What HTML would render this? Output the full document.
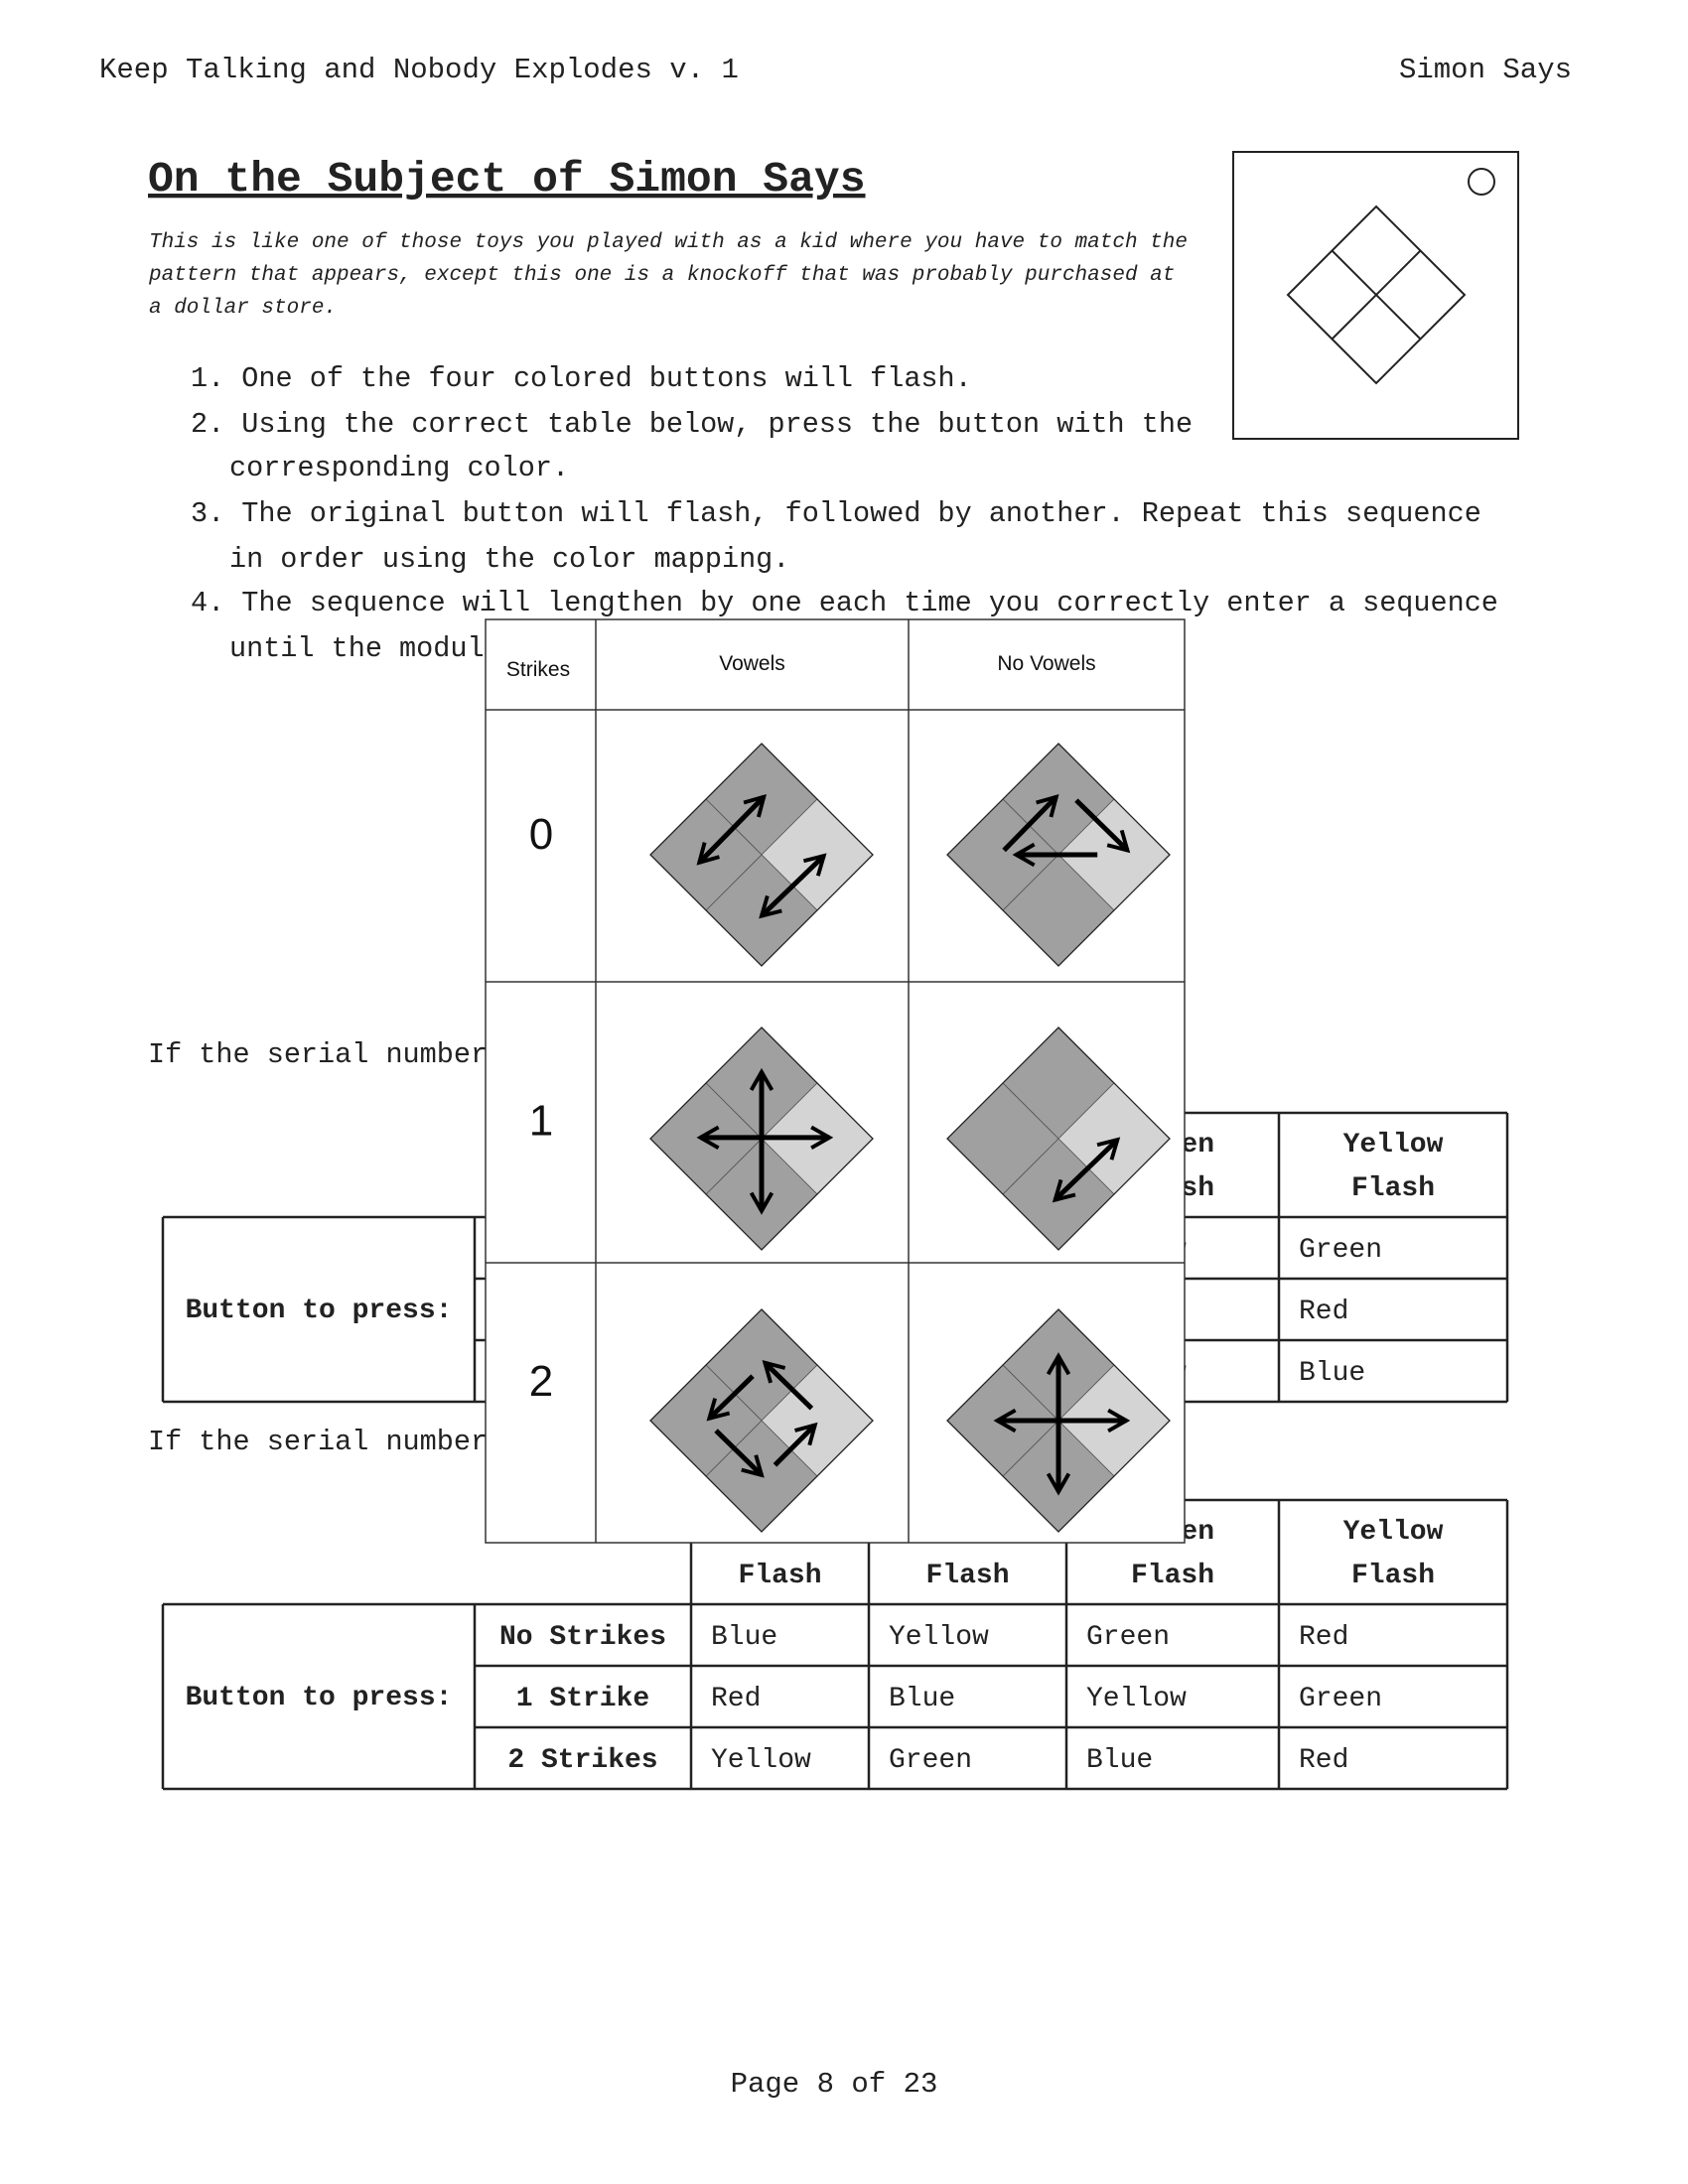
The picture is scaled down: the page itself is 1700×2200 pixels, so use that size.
<!DOCTYPE html>
<html><head><meta charset="utf-8">
<style>
html,body{margin:0;padding:0;background:#fff;}
svg{display:block;}
.tw{font-family:"Liberation Mono",monospace;fill:#222;}
.sans{font-family:"Liberation Sans",sans-serif;fill:#111;}
</style></head>
<body>
<svg id="page" width="1700" height="2200" viewBox="0 0 1700 2200" xmlns="http://www.w3.org/2000/svg">
<defs>
<marker id="ah" viewBox="0 0 10 10" refX="8" refY="5" markerWidth="5.2" markerHeight="5.2" orient="auto-start-reverse" markerUnits="strokeWidth">
<path d="M1,1 L8,5 L1,9" fill="none" stroke="#000" stroke-width="1.5"/>
</marker>
</defs>
<text class="tw" x="100" y="78" font-size="29">Keep Talking and Nobody Explodes v. 1</text>
<text class="tw" x="1583" y="78" font-size="29" text-anchor="end">Simon Says</text>
<text class="tw" x="149" y="192" font-size="43" font-weight="bold" text-decoration="underline">On the Subject of Simon Says</text>
<g class="tw" font-size="21" font-style="italic">
<text x="150" y="249">This is like one of those toys you played with as a kid where you have to match the</text>
<text x="150" y="282">pattern that appears, except this one is a knockoff that was probably purchased at</text>
<text x="150" y="315">a dollar store.</text>
</g>
<g>
<rect x="1242" y="153" width="287" height="289" fill="none" stroke="#222" stroke-width="2"/>
<circle cx="1492" cy="183" r="13" fill="none" stroke="#222" stroke-width="2"/>
<path d="M1386,208 L1475,297 L1386,386 L1297,297 Z M1341.5,252.5 L1430.5,341.5 M1430.5,252.5 L1341.5,341.5" fill="none" stroke="#222" stroke-width="2"/>
</g>
<g class="tw" font-size="28.5">
<text x="192" y="389">1. One of the four colored buttons will flash.</text>
<text x="192" y="435">2. Using the correct table below, press the button with the</text>
<text x="231" y="479">corresponding color.</text>
<text x="192" y="525">3. The original button will flash, followed by another. Repeat this sequence</text>
<text x="231" y="571">in order using the color mapping.</text>
<text x="192" y="615">4. The sequence will lengthen by one each time you correctly enter a sequence</text>
<text x="231" y="661">until the module is disarmed.</text>
</g>
<text class="tw" x="149" y="1070" font-size="28.5">If the serial number contains a vowel:</text>
<text class="tw" x="149" y="1460" font-size="28.5">If the serial number does not contain a vowel:</text>
<g id="tables"></g>
<g id="overlay"></g>
<text class="tw" x="840" y="2107" font-size="29" text-anchor="middle">Page 8 of 23</text>
</svg>
<script>
const flashColors = ["Red","Blue","Green","Yellow"];
const strikeLabels = ["No Strikes","1 Strike","2 Strikes"];
const vowelTable = [["Blue","Red","Yellow","Green"],["Yellow","Green","Blue","Red"],["Green","Red","Yellow","Blue"]];
const noVowelTable = [["Blue","Yellow","Green","Red"],["Red","Blue","Yellow","Green"],["Yellow","Green","Blue","Red"]];
const overlayCols = ["Vowels","No Vowels"];
const overlayStrikes = ["0","1","2"];
const overlayArrows = [
 [[[-0.56,0.07,0.02,-0.52,1],[0.0,0.55,0.56,0.01,1]], [[-0.49,-0.04,-0.02,-0.52,0],[0.16,-0.49,0.62,-0.04,0],[0.35,0,-0.38,0,0]]],
 [[[0,-0.6,0,0.65,1],[-0.55,-0.01,0.61,-0.01,1]], [[-0.03,0.55,0.53,0.01,1]]],
 [[[-0.08,-0.4,-0.47,-0.02,0],[0.45,-0.11,0.03,-0.52,0],[-0.41,0.09,0,0.49,0],[0.12,0.4,0.48,0.04,0]], [[0,-0.58,0,0.64,1],[-0.55,0,0.61,0,1]]]
];
const NS="http://www.w3.org/2000/svg";
function mk(tag,attrs,parent){const e=document.createElementNS(NS,tag);for(const k in attrs)e.setAttribute(k,attrs[k]);parent.appendChild(e);return e;}
function txt(parent,x,y,s,opts){const t=mk("text",Object.assign({x:x,y:y,class:"tw","font-size":28},opts||{}),parent);t.textContent=s;return t;}
const tables=document.getElementById("tables");
const colX=[164,478,696,875,1074,1288,1518];
function drawTable(top,data,name){
  const g=mk("g",{},tables);
  
  
  const hTop=top, hBot=top+105, rowH=62;
  const rows=[hBot,hBot+rowH,hBot+2*rowH,hBot+3*rowH];
  const st={stroke:"#222","stroke-width":2.5};
  mk("line",Object.assign({x1:colX[2],y1:hTop,x2:colX[6],y2:hTop},st),g);
  for(let c=2;c<=6;c++) mk("line",Object.assign({x1:colX[c],y1:hTop,x2:colX[c],y2:rows[3]},st),g);
  mk("line",Object.assign({x1:colX[0],y1:hBot,x2:colX[6],y2:hBot},st),g);
  for(let r=1;r<=2;r++) mk("line",Object.assign({x1:colX[1],y1:rows[r],x2:colX[6],y2:rows[r]},st),g);
  mk("line",Object.assign({x1:colX[0],y1:rows[3],x2:colX[6],y2:rows[3]},st),g);
  mk("line",Object.assign({x1:colX[0],y1:hBot,x2:colX[0],y2:rows[3]},st),g);
  mk("line",Object.assign({x1:colX[1],y1:hBot,x2:colX[1],y2:rows[3]},st),g);
  flashColors.forEach((f,i)=>{
    const cx=(colX[i+2]+colX[i+3])/2;
    const h1=txt(g,cx,hTop+39,f,{"font-weight":"bold","text-anchor":"middle"});
    
    
    txt(g,cx,hTop+83,"Flash",{"font-weight":"bold","text-anchor":"middle"});
  });
  const b=txt(g,(colX[0]+colX[1])/2,hBot+101,"Button to press:",{"font-weight":"bold","text-anchor":"middle"});
  
  
  strikeLabels.forEach((s,r)=>{
    const l=txt(g,(colX[1]+colX[2])/2,rows[r]+40,s,{"font-weight":"bold","text-anchor":"middle"});
    
    
    data[r].forEach((v,c)=>{
      const t=txt(g,colX[c+2]+20,rows[r]+40,v);
      
      
    });
  });
}
drawTable(1121,vowelTable,"vowel-mapping-table");
drawTable(1511,noVowelTable,"no-vowel-mapping-table");

const ov=document.getElementById("overlay");
const oX=[489,600,915,1193], oY=[624,715,989,1272,1554];
mk("rect",{x:oX[0],y:oY[0],width:oX[3]-oX[0],height:oY[4]-oY[0],fill:"#fff",stroke:"#333","stroke-width":1.5},ov);
for(let i=1;i<3;i++) mk("line",{x1:oX[i],y1:oY[0],x2:oX[i],y2:oY[4],stroke:"#333","stroke-width":1.5},ov);
for(let i=1;i<4;i++) mk("line",{x1:oX[0],y1:oY[i],x2:oX[3],y2:oY[i],stroke:"#333","stroke-width":1.5},ov);
const hs=mk("text",{x:542,y:681,class:"sans","font-size":21,"text-anchor":"middle"},ov);hs.textContent="Strikes";


overlayCols.forEach((c,i)=>{
  const t=mk("text",{x:(oX[i+1]+oX[i+2])/2,y:675,class:"sans","font-size":21,"text-anchor":"middle"},ov);t.textContent=c;
  
  
});
const H=112;
overlayStrikes.forEach((s,r)=>{
  const cy=(oY[r+1]+oY[r+2])/2;
  const t=mk("text",{x:545,y:cy+13+(r===0?-10:r===2?-20:0),class:"sans","font-size":44,"text-anchor":"middle"},ov);t.textContent=s;
  
  
  const centersY=[861,1147,1431];
  [767,1066].forEach((cx,c)=>{
    const y0=centersY[r];
    const g=mk("g",{transform:"translate("+cx+","+y0+")"},ov);
    
    
    const h=H/2;
    const quads=[[[0,-H],[h,-h],[0,0],[-h,-h]],[[h,-h],[H,0],[h,h],[0,0]],[[0,0],[h,h],[0,H],[-h,h]],[[-h,-h],[0,0],[-h,h],[-H,0]]];
    const fills=["#a0a0a0","#d4d4d4","#a0a0a0","#a0a0a0"];
    quads.forEach((q,qi)=>mk("polygon",{points:q.map(p=>p.join(",")).join(" "),fill:fills[qi],stroke:"#555","stroke-width":0.8},g));
    mk("polygon",{points:"0,"+(-H)+" "+H+",0 0,"+H+" "+(-H)+",0",fill:"none",stroke:"#222","stroke-width":1.3},g);
    overlayArrows[r][c].forEach(a=>{
      const ln=mk("line",{x1:a[0]*H,y1:a[1]*H,x2:a[2]*H,y2:a[3]*H,stroke:"#000","stroke-width":5,"marker-end":"url(#ah)"},g);
      if(a[4]) ln.setAttribute("marker-start","url(#ah)");
      
      
    });
  });
});
</script>
</body></html>
